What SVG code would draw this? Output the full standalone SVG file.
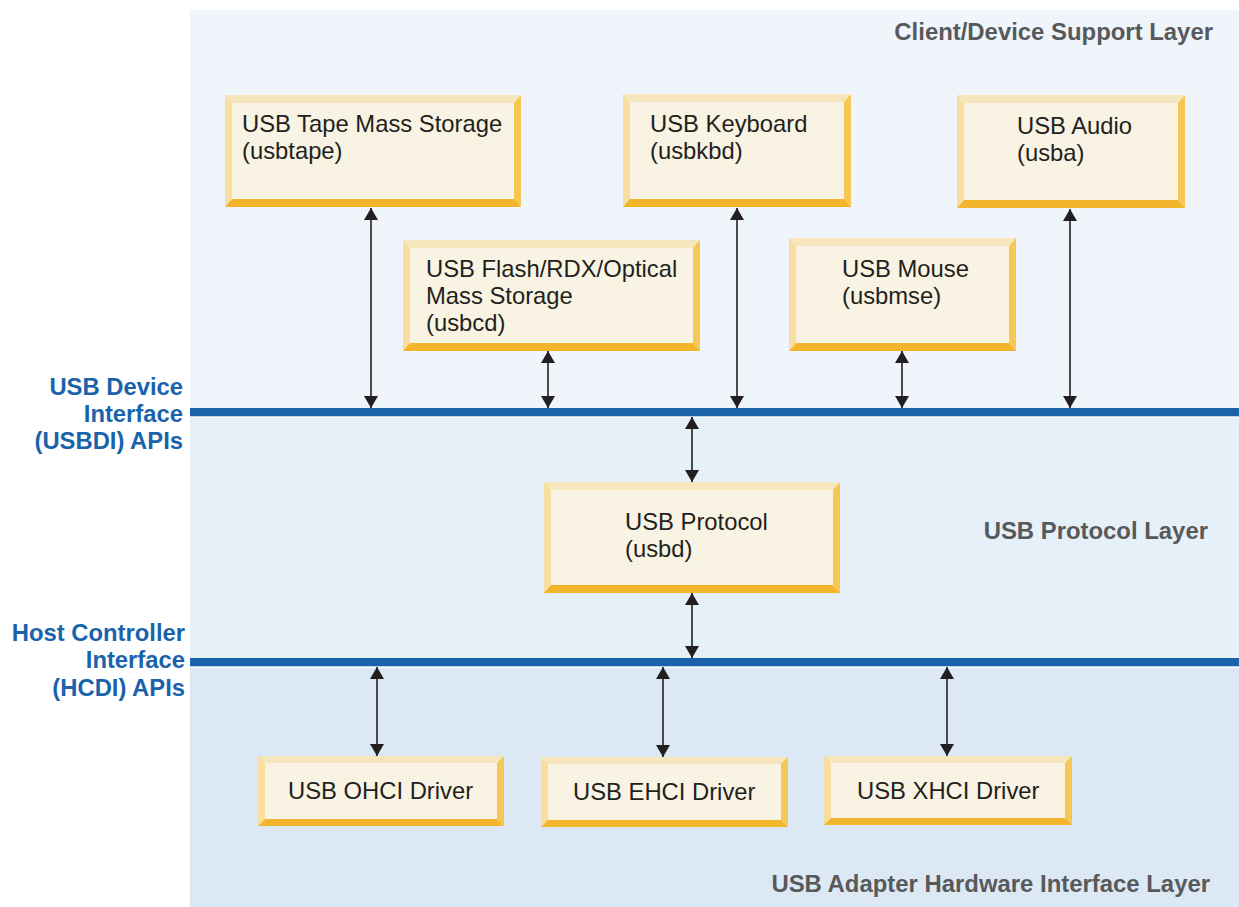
<svg xmlns="http://www.w3.org/2000/svg" width="1239" height="907" viewBox="0 0 1239 907">
<style>
.bt{font-family:"Liberation Sans",Arial,sans-serif;font-size:23.8px;fill:#231f20}
.api{font-family:"Liberation Sans",Arial,sans-serif;font-size:23.8px;font-weight:bold;fill:#1a63ab;text-anchor:end}
.lay{font-family:"Liberation Sans",Arial,sans-serif;font-size:23.9px;font-weight:bold;fill:#58595b;text-anchor:end}
.in{fill:#f8f3e2}
.tp{fill:#f6e6bd}
.lf{fill:#f8dea0}
.rt{fill:#f6c853}
.bm{fill:#f3b52c}
.band{fill:#1a63ab}
.con line{stroke:#231f20;stroke-width:1.6;marker-start:url(#ah);marker-end:url(#ah)}
</style>
<defs>
<marker id="ah" markerUnits="userSpaceOnUse" markerWidth="12" markerHeight="14" refX="12" refY="7" orient="auto-start-reverse" viewBox="0 0 12 14">
<path d="M0,0 L12,7 L0,14 z" fill="#231f20"/>
</marker>
</defs>
<rect x="0" y="0" width="1239" height="907" fill="#ffffff"/>
<g id="layers">
<rect x="190" y="10" width="1049" height="400" fill="#eff5fb"/>
<rect x="190" y="410" width="1049" height="252" fill="#e5f0f8"/>
<rect x="190" y="662" width="1049" height="245" fill="#dce9f5"/>
<rect class="band" x="190" y="408" width="1049" height="8.5"/>
<rect x="190" y="416.5" width="1049" height="1.2" fill="#ffffff"/>
<rect class="band" x="190" y="658" width="1049" height="8.5"/>
<rect x="190" y="666.5" width="1049" height="1.2" fill="#ffffff"/>
</g>
<g id="labels">
<text class="lay" x="1213" y="40">Client/Device Support Layer</text>
<text class="lay" x="1208" y="539">USB Protocol Layer</text>
<text class="lay" x="1210" y="892">USB Adapter Hardware Interface Layer</text>
<text class="api" x="183" y="395">USB Device</text>
<text class="api" x="183" y="422">Interface</text>
<text class="api" x="183" y="449">(USBDI) APIs</text>
<text class="api" x="185" y="641">Host Controller</text>
<text class="api" x="185" y="668">Interface</text>
<text class="api" x="185" y="696">(HCDI) APIs</text>
</g>
<g id="n-usbtape">
<polygon class="tp" points="225,95 521,95 514,103 232,103"/>
<polygon class="lf" points="225,95 232,103 232,199 225,207"/>
<polygon class="rt" points="521,95 521,207 514,199 514,103"/>
<polygon class="bm" points="225,207 232,199 514,199 521,207"/>
<rect class="in" x="232" y="103" width="282" height="96"/>
<text class="bt" x="242" y="132">USB Tape Mass Storage</text>
<text class="bt" x="242" y="159">(usbtape)</text>
</g>
<g id="n-usbkbd">
<polygon class="tp" points="623,94 851,94 844,102 630,102"/>
<polygon class="lf" points="623,94 630,102 630,199 623,207"/>
<polygon class="rt" points="851,94 851,207 844,199 844,102"/>
<polygon class="bm" points="623,207 630,199 844,199 851,207"/>
<rect class="in" x="630" y="102" width="214" height="97"/>
<text class="bt" x="650" y="132">USB Keyboard</text>
<text class="bt" x="650" y="159">(usbkbd)</text>
</g>
<g id="n-usba">
<polygon class="tp" points="957,95 1185,95 1178,103 964,103"/>
<polygon class="lf" points="957,95 964,103 964,200 957,208"/>
<polygon class="rt" points="1185,95 1185,208 1178,200 1178,103"/>
<polygon class="bm" points="957,208 964,200 1178,200 1185,208"/>
<rect class="in" x="964" y="103" width="214" height="97"/>
<text class="bt" x="1017" y="134">USB Audio</text>
<text class="bt" x="1017" y="161">(usba)</text>
</g>
<g id="n-usbcd">
<polygon class="tp" points="403,240 700,240 693,248 410,248"/>
<polygon class="lf" points="403,240 410,248 410,343 403,351"/>
<polygon class="rt" points="700,240 700,351 693,343 693,248"/>
<polygon class="bm" points="403,351 410,343 693,343 700,351"/>
<rect class="in" x="410" y="248" width="283" height="95"/>
<text class="bt" x="426" y="277">USB Flash/RDX/Optical</text>
<text class="bt" x="426" y="304">Mass Storage</text>
<text class="bt" x="426" y="331">(usbcd)</text>
</g>
<g id="n-usbmse">
<polygon class="tp" points="789,238 1016,238 1009,246 796,246"/>
<polygon class="lf" points="789,238 796,246 796,343 789,351"/>
<polygon class="rt" points="1016,238 1016,351 1009,343 1009,246"/>
<polygon class="bm" points="789,351 796,343 1009,343 1016,351"/>
<rect class="in" x="796" y="246" width="213" height="97"/>
<text class="bt" x="842" y="277">USB Mouse</text>
<text class="bt" x="842" y="304">(usbmse)</text>
</g>
<g id="n-usbd">
<polygon class="tp" points="544,482 840,482 833,490 551,490"/>
<polygon class="lf" points="544,482 551,490 551,585 544,593"/>
<polygon class="rt" points="840,482 840,593 833,585 833,490"/>
<polygon class="bm" points="544,593 551,585 833,585 840,593"/>
<rect class="in" x="551" y="490" width="282" height="95"/>
<text class="bt" x="625" y="530">USB Protocol</text>
<text class="bt" x="625" y="557">(usbd)</text>
</g>
<g id="n-ohci">
<polygon class="tp" points="258,756 504,756 497,763 265,763"/>
<polygon class="lf" points="258,756 265,763 265,819 258,826"/>
<polygon class="rt" points="504,756 504,826 497,819 497,763"/>
<polygon class="bm" points="258,826 265,819 497,819 504,826"/>
<rect class="in" x="265" y="763" width="232" height="56"/>
<text class="bt" x="288" y="799">USB OHCI Driver</text>
</g>
<g id="n-ehci">
<polygon class="tp" points="541,757 788,757 781,764 548,764"/>
<polygon class="lf" points="541,757 548,764 548,820 541,827"/>
<polygon class="rt" points="788,757 788,827 781,820 781,764"/>
<polygon class="bm" points="541,827 548,820 781,820 788,827"/>
<rect class="in" x="548" y="764" width="233" height="56"/>
<text class="bt" x="573" y="800">USB EHCI Driver</text>
</g>
<g id="n-xhci">
<polygon class="tp" points="824,756 1072,756 1065,763 831,763"/>
<polygon class="lf" points="824,756 831,763 831,818 824,825"/>
<polygon class="rt" points="1072,756 1072,825 1065,818 1065,763"/>
<polygon class="bm" points="824,825 831,818 1065,818 1072,825"/>
<rect class="in" x="831" y="763" width="234" height="55"/>
<text class="bt" x="857" y="799">USB XHCI Driver</text>
</g>
<g id="connectors" class="con">
<line x1="371" y1="208" x2="371" y2="408"/>
<line x1="548" y1="351" x2="548" y2="408"/>
<line x1="737" y1="208" x2="737" y2="408"/>
<line x1="902" y1="351" x2="902" y2="408"/>
<line x1="1070" y1="209" x2="1070" y2="408"/>
<line x1="692" y1="417" x2="692" y2="482"/>
<line x1="692" y1="593" x2="692" y2="658"/>
<line x1="377" y1="667" x2="377" y2="756"/>
<line x1="663" y1="667" x2="663" y2="757"/>
<line x1="947" y1="667" x2="947" y2="756"/>
</g>
</svg>
